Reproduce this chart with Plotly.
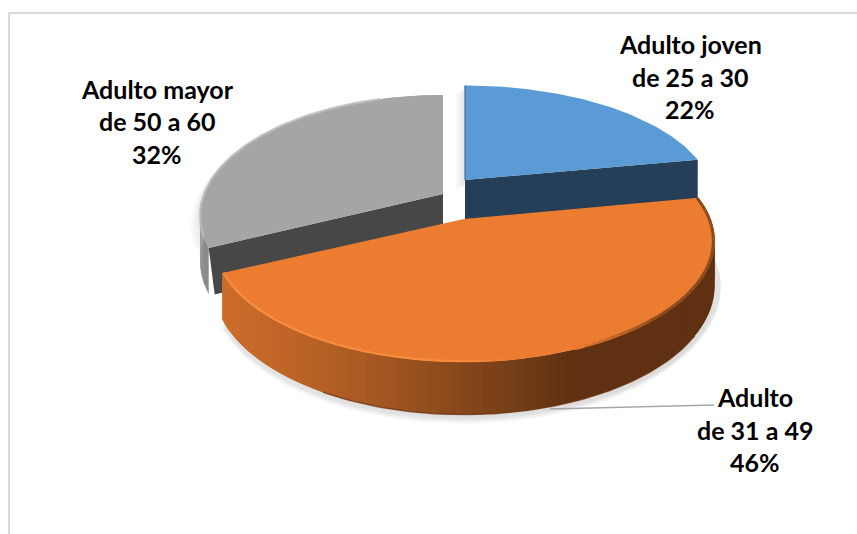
import math
import plotly.graph_objects as go

# ---- data ----
categories = ["Adulto joven", "Adulto", "Adulto mayor"]
ranges = ["de 25 a 30", "de 31 a 49", "de 50 a 60"]
shares = [22, 46, 32]
colors_top = ["#5B9BD5", "#EC7C30", "#A5A5A5"]
colors_wall = ["#243F57", "#5F3112", "#474747"]

# ---- style / projection of the tilted disc (pixel space) ----
W, H = 857, 534
A, B, K, DEPTH = 245.0, 117.0, 0.182, 43.0
APEX = [(465, 180), (464, 219), (443, 194)]
SCALE_A = [1.0, 1.006, 0.975]
SCALE_B = [0.955, 1.0, 1.0]


def proj(i, frac_turn, r=1.0, down=0.0):
    t = 2 * math.pi * frac_turn
    u, v = r * math.sin(t), r * math.cos(t)
    w = 1 / (1 + K * v)
    return (APEX[i][0] + A * SCALE_A[i] * u * w,
            APEX[i][1] - B * SCALE_B[i] * v * w + down * w)


def arc(i, a0, a1, down=0.0, r=1.0, n=90):
    pts = [proj(i, a0 + (a1 - a0) * j / n, r, down) for j in range(n + 1)]
    return [p[0] for p in pts], [p[1] for p in pts]


def mix(c0, c1, f):
    f = max(0, min(1, f))
    a = [int(c0[i:i + 2], 16) for i in (1, 3, 5)]
    b = [int(c1[i:i + 2], 16) for i in (1, 3, 5)]
    return "rgb(%d,%d,%d)" % tuple(round(a[i] + (b[i] - a[i]) * f) for i in range(3))


fig = go.Figure()


def poly(x, y, color, opacity=1.0, edge=0):
    fig.add_trace(go.Scatter(x=x, y=y, mode="lines", fill="toself", fillcolor=color,
                             line=dict(width=edge, color=color), opacity=opacity,
                             hoverinfo="skip", showlegend=False))


def line(x, y, color, width=1.0, opacity=1.0):
    fig.add_trace(go.Scatter(x=x, y=y, mode="lines", line=dict(width=width, color=color),
                             opacity=opacity, hoverinfo="skip", showlegend=False))


total = sum(shares)
starts, s = [], 0.0
for v in shares:
    starts.append(s / total)
    s += v
ends = [starts[i] + shares[i] / total for i in range(3)]


def slice_xy(i, down=0.0, dx=0.0, dy=0.0):
    x, y = arc(i, starts[i], ends[i], down)
    ax, ay = APEX[i][0], APEX[i][1] + down
    return [ax + dx] + [q + dx for q in x] + [ax + dx], [ay + dy] + [q + dy for q in y] + [ay + dy]


# frame
line([9, 9, W], [H, 13, 13], "#D9D9D9", 2)

# soft shadows
for dx, dy, op in [(-9, 8, 0.25), (-6, 6, 0.35), (-3, 4, 0.5)]:
    for i in (2, 0):
        x, y = slice_xy(i, 0, dx, dy)
        poly(x, y, "#E2E2E2", op)
    x, y = slice_xy(1, DEPTH, 0, dy + 1)
    poly(x, y, "#DADADA", op)
    x, y = slice_xy(1, DEPTH, 6, dy - 4)
    poly(x, y, "#DADADA", op)

# grey slice: rim, wall, top
n = 30
step = (ends[2] - starts[2]) / n
for k in range(n):
    f0 = starts[2] + step * k
    f1 = min(ends[2], f0 + 2 * step)
    x0, y0 = arc(2, f0, f1, 0, n=3)
    x1, y1 = arc(2, f0, f1, DEPTH, n=3)
    poly(x0 + x1[::-1], y0 + y1[::-1], mix("#8A8A8A", "#B5B5B5", k / (n * 0.3)))
ex, ey = proj(2, starts[2])
fx, fy = proj(2, starts[2], 1.0, DEPTH)
ax, ay = APEX[2]
poly([ax, ex, fx + 6, ax], [ay, ey, fy, ay + DEPTH], colors_wall[2])
x, y = slice_xy(2)
poly(x, y, colors_top[2])
xr, yr = arc(2, starts[2] + 0.015, ends[2] - 0.05, 0)
line(xr, yr, "#BDBDBD", 2.5, 0.8)

# blue slice: wall and top
ex, ey = proj(0, ends[0])
fx, fy = proj(0, ends[0], 1.0, DEPTH)
ax, ay = APEX[0]
poly([ax, ex, fx, ax], [ay, ey, fy, ay + DEPTH], colors_wall[0])
x, y = slice_xy(0)
poly(x, y, colors_top[0])
tx, ty = proj(0, 0.0)
line([ax, tx], [ay, ty], "#3D6C96", 1.2)

# orange slice: side wall gradient (overlapping bands drawn from right to left)
n = 80
step = (ends[1] - starts[1]) / n
for k in range(n):
    f0 = starts[1] + step * k
    f1 = min(ends[1], f0 + 2 * step)
    x0, y0 = arc(1, f0, f1, 0, n=3)
    x1, y1 = arc(1, f0, f1, DEPTH, n=3)
    xm = max(0.0, (x0[0] - 223) / (575 - 223))
    if xm >= 1:
        c = colors_wall[1]
    else:
        c = mix("#CB6C2A", "#5F3112", xm ** 1.3)
    poly(x0 + x1[::-1], y0 + y1[::-1], c)
# thin dark foot of the wall
xb, yb = arc(1, starts[1] + 0.12, ends[1] - 0.1, DEPTH)
line(xb, yb, "#6E3510", 1.5, 0.7)

# orange top with bevel
x, y = slice_xy(1)
poly(x, y, colors_top[1])
# dark blurred edge on the right, light highlight on the left
for k in range(n):
    f0 = starts[1] + step * k
    f1 = f0 + step
    xs, ys = arc(1, f0, f1, 0, r=0.995, n=2)
    g = (xs[1] - 223) / (714 - 223)
    if g > 0.72:
        c = mix(colors_top[1], "#8A4A1C", (g - 0.72) * 6)
        line(xs, ys, c, 3)
    elif g < 0.62:
        c = mix(colors_top[1], "#F88C3E", (0.62 - g) * 6)
        line(xs, ys, c, 2.2)

# leader line
line([550, 714], [409, 405], "#A6A6A6", 1.3)

# labels
anchors = [(690, [44, 77, 109]), (755, [397, 430, 462]), (157, [89, 121, 154])]
annotations = []
for i in range(3):
    lines = [categories[i], ranges[i], "%d%%" % shares[i]]
    for txt, yy in zip(lines, anchors[i][1]):
        annotations.append(dict(x=anchors[i][0], y=yy, text="<b>%s</b>" % txt, showarrow=False,
                                xref="x", yref="y", xanchor="center", yanchor="middle",
                                font=dict(family="Lato, Open Sans, sans-serif", size=25, color="#000000")))

fig.update_layout(
    width=W, height=H, margin=dict(l=0, r=0, t=0, b=0),
    paper_bgcolor="white", plot_bgcolor="white", showlegend=False,
    xaxis=dict(range=[0, W], visible=False, fixedrange=True),
    yaxis=dict(range=[H, 0], visible=False, fixedrange=True),
    annotations=annotations,
)
fig.write_html("out.html", config={"displayModeBar": False},
               post_script="document.body.style.margin='0';document.body.style.overflow='hidden';")
